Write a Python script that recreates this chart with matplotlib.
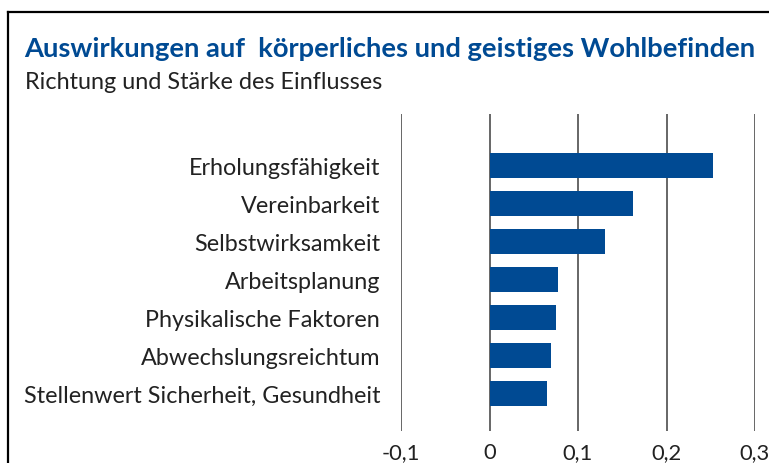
import matplotlib
matplotlib.use("Agg")
import matplotlib.pyplot as plt
from matplotlib.lines import Line2D

categories = ["Erholungsfähigkeit", "Vereinbarkeit", "Selbstwirksamkeit",
              "Arbeitsplanung", "Physikalische Faktoren",
              "Abwechslungsreichtum", "Stellenwert Sicherheit, Gesundheit"]
values = [0.253, 0.162, 0.131, 0.077, 0.075, 0.069, 0.065]
xticks = [-0.1, 0, 0.1, 0.2, 0.3]
xticklabels = ["-0,1", "0", "0,1", "0,2", "0,3"]

title = "Auswirkungen auf  körperliches und geistiges Wohlbefinden"
subtitle = "Richtung und Stärke des Einflusses"

FONT = "Lato"
BLUE = "#004a93"

W, H = 769, 464
fig = plt.figure(figsize=(W / 100, H / 100), dpi=100)
fig.patch.set_facecolor("white")

ax = fig.add_axes([401 / W, 1 - 432 / H, (755 - 401) / W, (432 - 115) / H])
ypos = list(range(len(categories)))
ax.barh(ypos, values, height=0.67, color=BLUE, zorder=3)
ax.set_xlim(-0.1, 0.3)
ax.set_ylim(6.98, -1.35)
ax.set_xticks(xticks)
ax.set_xticklabels(xticklabels, fontsize=15.8, family=FONT, color="#222222")
ax.set_yticks(ypos)
ax.set_yticklabels(categories, fontsize=16.8, family=FONT, color="#222222")
ax.tick_params(axis="both", length=0)
ax.tick_params(axis="y", pad=15)
ax.tick_params(axis="x", pad=8)
for s in ax.spines.values():
    s.set_visible(False)
ax.xaxis.grid(True, color="#5a5a5a", linewidth=1.3, zorder=0)
ax.set_axisbelow(True)

fig.text(24 / W, 1 - 57 / H, title, fontsize=19.7, fontweight="bold",
         color=BLUE, family=FONT, ha="left", va="baseline")
fig.text(25 / W, 1 - 89 / H, subtitle, fontsize=16.8, color="#222222",
         family=FONT, ha="left", va="baseline")

fig.add_artist(Line2D([8 / W, 1.0], [1 - 13 / H, 1 - 13 / H],
                      transform=fig.transFigure, color="black", linewidth=1.6))
fig.add_artist(Line2D([8 / W, 8 / W], [1 - 13 / H, 0.0],
                      transform=fig.transFigure, color="black", linewidth=1.6))

fig.savefig("out.png", dpi=100)
